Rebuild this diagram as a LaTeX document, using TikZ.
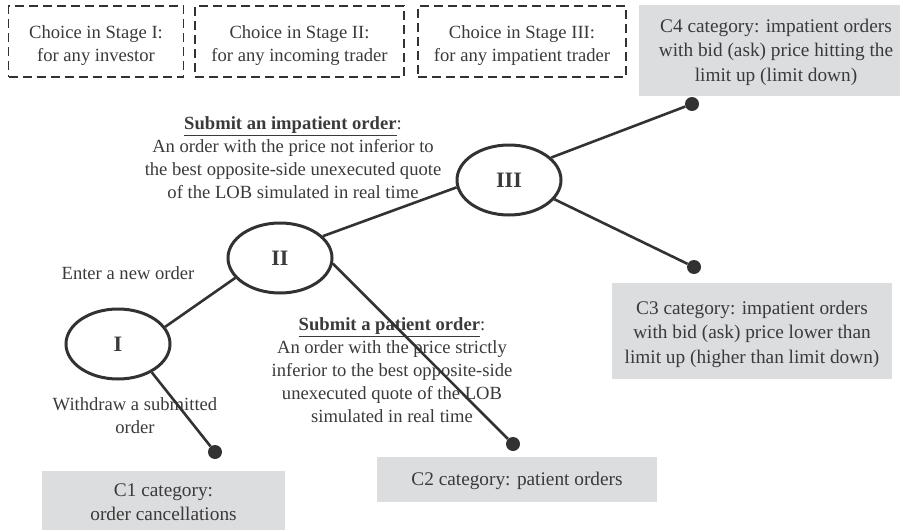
\documentclass[tikz,border=0pt]{standalone}
\usepackage{fontspec}
\setmainfont{Liberation Serif}
\usetikzlibrary{shapes.geometric}
\definecolor{txt}{RGB}{58,58,58}
\definecolor{ln}{RGB}{50,50,50}
\definecolor{catfill}{RGB}{220,221,223}
\tikzset{
  every node/.style={text=txt, font=\fontsize{18.6}{23}\selectfont},
  dashbox/.style={draw=ln, line width=1.8pt, dash pattern=on 9pt off 5pt, inner sep=0pt},
  catbox/.style={fill=catfill, draw=none, inner sep=0pt},
  cattext/.style={align=center, inner sep=0pt, font=\fontsize{19.3}{24.5}\selectfont},
  stage/.style={ellipse, draw=ln, line width=3pt, minimum width=104pt, minimum height=70pt, inner sep=0pt, font=\fontsize{22}{26}\selectfont\bfseries},
  dotnode/.style={circle, fill=ln, draw=none, minimum size=14pt, inner sep=0pt},
  lbl/.style={align=center, inner sep=0pt},
  conn/.style={draw=ln, line width=2.6pt},
}
\begin{document}
\begin{tikzpicture}[x=1pt,y=-1pt]
\useasboundingbox (0,0) rectangle (900,530);
% dashed stage boxes
\node[dashbox, minimum width=175pt, minimum height=71pt] (b1) at (96,41.5) {};
\node[dashbox, minimum width=209pt, minimum height=71pt] (b2) at (299.5,41.5) {};
\node[dashbox, minimum width=208pt, minimum height=71pt] (b3) at (522,41.5) {};
\node[lbl] (t1) at (96,46) {Choice in Stage I:\\for any investor};
\node[lbl] (t2) at (299.5,46) {Choice in Stage II:\\for any incoming trader};
\node[lbl] (t3) at (522,46) {Choice in Stage III:\\for any impatient trader};
% category boxes
\node[catbox, minimum width=261pt, minimum height=91pt] (c4) at (769.5,50.5) {};
\node[cattext] (c4t) at (776,52) {C4 category: impatient orders\\with bid (ask) price hitting the\\limit up (limit down)};
\node[catbox, minimum width=280pt, minimum height=96pt] (c3) at (752,331) {};
\node[cattext] (c3t) at (752,334) {C3 category: impatient orders\\with bid (ask) price lower than\\limit up (higher than limit down)};
\node[catbox, minimum width=280pt, minimum height=45pt] (c2) at (517,479.5) {};
\node[cattext] (c2t) at (517,481) {C2 category: patient orders};
\node[catbox, minimum width=243pt, minimum height=59pt] (c1) at (163.5,500.5) {};
\node[cattext] (c1t) at (163.5,502) {C1 category:\\order cancellations};
% stages
\node[stage] (I) at (118,344) {I};
\node[stage] (II) at (280,258) {II};
\node[stage] (III) at (509,180) {III};
% dots
\node[dotnode] (d1) at (215,452) {};
\node[dotnode] (d2) at (513,444) {};
\node[dotnode] (d3) at (694,267) {};
\node[dotnode] (d4) at (692,104) {};
% labels
\node[lbl] (limp) at (293,158) {\underline{\textbf{Submit an impatient order}}:\\An order with the price not inferior to\\the best opposite-side unexecuted quote\\of the LOB simulated in real time};
\node[lbl] (lnew) at (128,273) {Enter a new order};
\node[lbl] (lwd) at (135,416) {Withdraw a submitted\\order};
\node[lbl] (lpat) at (392,370) {\underline{\textbf{Submit a patient order}}:\\An order with the price strictly\\inferior to the best opposite-side\\unexecuted quote of the LOB\\simulated in real time};
% connectors
\draw[conn] (I.20) -- (II.204);
\draw[conn] (II.27) -- (III.188);
\draw[conn] (III.28) -- (d4);
\draw[conn] (III.-23) -- (d3);
\draw[conn] (II.-6) -- (d2);
\draw[conn] (I.-40) -- (d1);
\end{tikzpicture}
\end{document}
